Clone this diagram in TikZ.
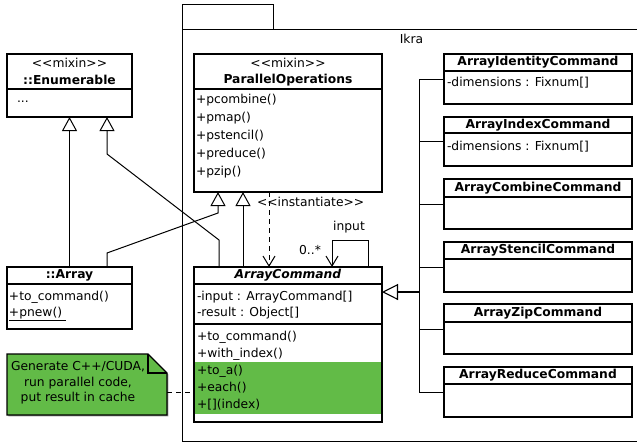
\documentclass[tikz,border=0pt]{standalone}
\usepackage{fontspec}
\setmainfont{DejaVu Sans}
\usetikzlibrary{arrows.meta,shadows}
\definecolor{ugreen}{RGB}{98,187,71}
\begin{document}
\begin{tikzpicture}[x=1pt,y=-1pt,
  font=\fontsize{12.3}{15}\selectfont,
  line width=1pt,
  box/.style={draw, fill=white, line width=1.1pt, inner sep=0pt, outer sep=0pt, anchor=north west,
    drop shadow={shadow xshift=1.3pt, shadow yshift=-1.3pt, fill=black!40, opacity=1}},
  lbl/.style={inner sep=0pt, outer sep=0pt},
  ttl/.style={inner sep=0pt, outer sep=0pt, font=\fontsize{12.3}{15}\selectfont\bfseries},
  gen/.style={-{Triangle[open, length=14pt, width=15pt, line width=1pt]}},
  inst/.style={dash pattern=on 5pt off 4pt, -{Straight Barb[length=10pt, width=12pt, line width=1pt]}},
  assoc/.style={-{Straight Barb[length=10pt, width=12pt, line width=1pt]}},
  dashln/.style={dash pattern=on 5pt off 4pt}
]
\useasboundingbox (0,0) rectangle (637,442);

% package
\node[draw, line width=1pt, inner sep=0pt, outer sep=0pt, anchor=north west, minimum width=91pt, minimum height=25pt] (tab) at (182,4) {};
\node[draw, line width=1pt, inner sep=0pt, outer sep=0pt, anchor=north west, minimum width=480pt, minimum height=412pt] (pkg) at (182,29) {};
\node[lbl] (ikra) at (411.5,39) {Ikra};

% Enumerable
\node[box, minimum width=125pt, minimum height=63pt] (enum) at (7,54) {};
\draw[line width=1.1pt] (enum.west |- 0,89) -- (enum.east |- 0,89);
\node[lbl] (enumst) at (69.5,63) {{<}{<}mixin{>}{>}};
\node[ttl] (enumt) at (69.5,80) {::Enumerable};
\node[lbl, anchor=west] (enumdots) at (17,102) {...};

% ParallelOperations
\node[box, minimum width=188pt, minimum height=138pt] (po) at (194,54) {};
\draw[line width=1.1pt] (po.west |- 0,89) -- (po.east |- 0,89);
\node[lbl] (post) at (288,63) {{<}{<}mixin{>}{>}};
\node[ttl] (pot) at (288,80) {ParallelOperations};
\node[lbl, anchor=west] (po1) at (196,100) {+pcombine()};
\node[lbl, anchor=west] (po2) at (196,118) {+pmap()};
\node[lbl, anchor=west] (po3) at (196,136) {+pstencil()};
\node[lbl, anchor=west] (po4) at (196,154) {+preduce()};
\node[lbl, anchor=west] (po5) at (196,172) {+pzip()};

% ::Array
\node[box, minimum width=125pt, minimum height=62pt] (arr) at (7,267) {};
\draw[line width=1.1pt] (arr.west |- 0,284) -- (arr.east |- 0,284);
\node[ttl] (arrt) at (69.5,275.5) {::Array};
\node[lbl, anchor=west] (arr1) at (9,297) {+to\_command()};
\node[lbl, anchor=west] (arr2) at (9,313) {+pnew()};
\draw[line width=0.9pt] (arr2.west |- 0,320) -- (66,320);

% ArrayCommand
\node[box, minimum width=188pt, minimum height=155pt] (ac) at (194,267) {};
\fill[ugreen] (ac.west |- 0,362) rectangle (ac.east |- 0,414);
\draw[line width=1.1pt] (ac.north west) rectangle (ac.south east);
\draw[line width=1.1pt] (ac.west |- 0,284) -- (ac.east |- 0,284);
\draw[line width=1.1pt] (ac.west |- 0,324) -- (ac.east |- 0,324);
\node[ttl, font=\fontsize{12.3}{15}\selectfont\bfseries\itshape] (act) at (288,275.5) {ArrayCommand};
\node[lbl, anchor=west] (ac1) at (197,297) {-input : ArrayCommand[]};
\node[lbl, anchor=west] (ac2) at (197,313) {-result : Object[]};
\node[lbl, anchor=west] (ac3) at (197,337) {+to\_command()};
\node[lbl, anchor=west] (ac4) at (197,354) {+with\_index()};
\node[lbl, anchor=west] (ac5) at (197,371.5) {+to\_a()};
\node[lbl, anchor=west] (ac6) at (197,388) {+each()};
\node[lbl, anchor=west] (ac7) at (197,405) {+[](index)};

% note
\node[inner sep=0pt, outer sep=0pt, anchor=north west, minimum width=160pt, minimum height=61pt] (note) at (7,354) {};
\fill[black!40] ([shift={(1.3,1.3)}]note.north west) -- ([shift={(-17.7,1.3)}]note.north east) -- ([shift={(1.3,20.3)}]note.north east) -- ([shift={(1.3,1.3)}]note.south east) -- ([shift={(1.3,1.3)}]note.south west) -- cycle;
\filldraw[fill=ugreen, line width=1.1pt, line join=miter] (note.north west) -- ([shift={(-19,0)}]note.north east) -- ([shift={(0,19)}]note.north east) -- (note.south east) -- (note.south west) -- cycle;
\draw[line width=1.1pt] ([shift={(-19,0)}]note.north east) -- ([shift={(-19,19)}]note.north east) -- ([shift={(0,19)}]note.north east);
\node[lbl, align=center, font=\fontsize{12.3}{15.5}\selectfont] (notet) at (78,383) {Generate C++/CUDA,\\run parallel code,\\put result in cache};
\draw[dashln] (note.east |- 0,392) -- (ac.west |- 0,392);

% right-side command classes
\node[box, minimum width=188pt, minimum height=50pt] (b1) at (444,54) {};
\draw[line width=1.1pt] (b1.west |- 0,71) -- (b1.east |- 0,71);
\node[ttl] (b1t) at (538,62.5) {ArrayIdentityCommand};
\node[lbl, anchor=west] (b1a) at (447,83) {-dimensions : Fixnum[]};

\node[box, minimum width=188pt, minimum height=49pt] (b2) at (444,117) {};
\draw[line width=1.1pt] (b2.west |- 0,133) -- (b2.east |- 0,133);
\node[ttl] (b2t) at (538,125) {ArrayIndexCommand};
\node[lbl, anchor=west] (b2a) at (447,147) {-dimensions : Fixnum[]};

\node[box, minimum width=188pt, minimum height=50pt] (b3) at (444,179) {};
\draw[line width=1.1pt] (b3.west |- 0,197) -- (b3.east |- 0,197);
\node[ttl] (b3t) at (538,188) {ArrayCombineCommand};

\node[box, minimum width=188pt, minimum height=50pt] (b4) at (444,242) {};
\draw[line width=1.1pt] (b4.west |- 0,259) -- (b4.east |- 0,259);
\node[ttl] (b4t) at (538,250.5) {ArrayStencilCommand};

\node[box, minimum width=188pt, minimum height=50pt] (b5) at (444,304) {};
\draw[line width=1.1pt] (b5.west |- 0,322) -- (b5.east |- 0,322);
\node[ttl] (b5t) at (538,313) {ArrayZipCommand};

\node[box, minimum width=188pt, minimum height=50pt] (b6) at (444,367) {};
\draw[line width=1.1pt] (b6.west |- 0,384) -- (b6.east |- 0,384);
\node[ttl] (b6t) at (538,375.5) {ArrayReduceCommand};

% generalization bus
\coordinate (busj) at (419,292);
\draw (b1.west) -- (b1.west -| busj) -- (b6.west -| busj) -- (b6.west);
\draw (b2.west) -- (b2.west -| busj);
\draw (b3.west) -- (b3.west -| busj);
\draw (b4.west) -- (b4.west -| busj);
\draw (b5.west) -- (b5.west -| busj);
\draw[line width=2.4pt, -{Triangle[open, length=16pt, width=16pt, line width=1.1pt]}] (busj) -- (ac.east |- busj);

% inheritance / inclusion
\draw[gen] (arr.north) -- (enum.south);
\draw[gen] (arr.north -| 107,0) -- (107,253) -- (218,213) -- (po.south -| 218,0);
\draw[gen] (ac.north -| 219,0) -- (219,240) -- (107,154) -- (enum.south -| 107,0);
\draw[gen] (ac.north -| 243,0) -- (po.south -| 243,0);

% instantiate
\draw[inst] (po.south -| 269,0) -- (ac.north -| 269,0);
\node[lbl, anchor=west] (instl) at (257,202) {{<}{<}instantiate{>}{>}};

% self association
\draw[assoc] (ac.north -| 368,0) -- (368,240) -- (332,240) -- (ac.north -| 332,0);
\node[lbl] (inputl) at (349,227) {input};
\node[lbl] (multl) at (310,250.5) {0..*};
\end{tikzpicture}
\end{document}
